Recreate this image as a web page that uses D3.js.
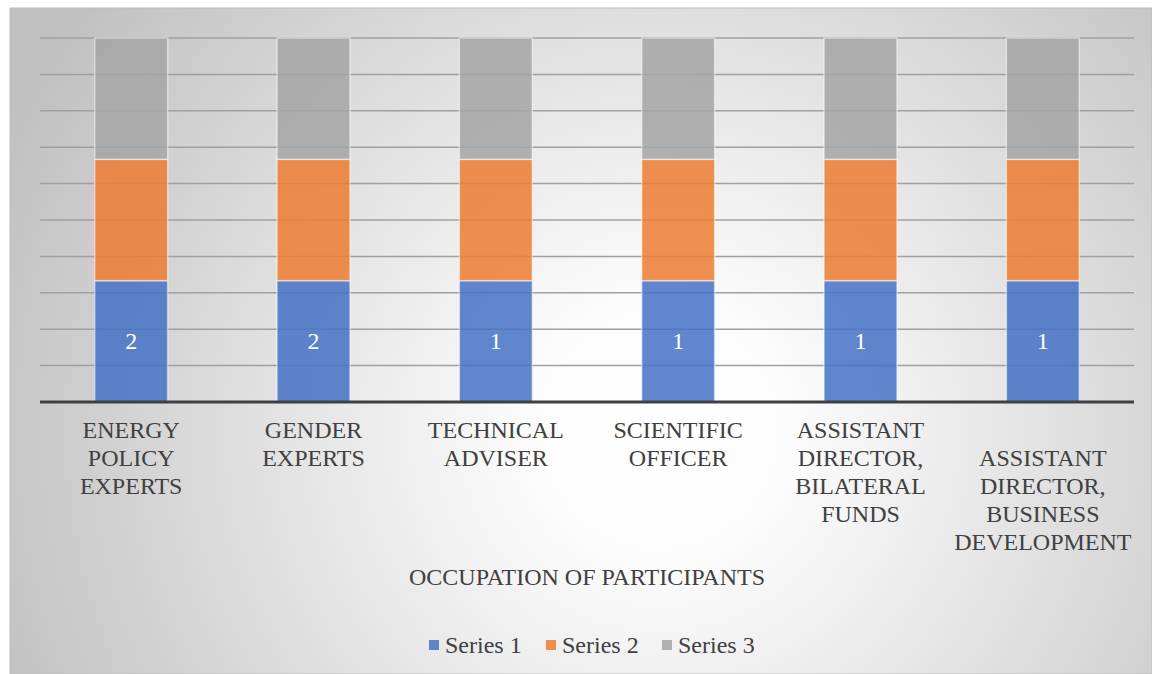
<!DOCTYPE html>
<html>
<head>
<meta charset="utf-8">
<script src="https://cdn.jsdelivr.net/npm/d3@7"></script>
<style>
  html, body { margin: 0; padding: 0; background: #ffffff; }
  svg { display: block; }
</style>
</head>
<body>
<svg id="chart" width="1152" height="674"></svg>
<script>
// Occupations (each wrapped into display lines)
const categories = [
  ["ENERGY", "POLICY", "EXPERTS"],
  ["GENDER", "EXPERTS"],
  ["TECHNICAL", "ADVISER"],
  ["SCIENTIFIC", "OFFICER"],
  ["ASSISTANT", "DIRECTOR,", "BILATERAL", "FUNDS"],
  ["ASSISTANT", "DIRECTOR,", "BUSINESS", "DEVELOPMENT"]
];
const seriesNames = ["Series 1", "Series 2", "Series 3"];
const series1 = [2, 2, 1, 1, 1, 1];
const series2 = [2, 2, 1, 1, 1, 1];
const series3 = [2, 2, 1, 1, 1, 1];
const yTicks = [0, 0.1, 0.2, 0.3, 0.4, 0.5, 0.6, 0.7, 0.8, 0.9, 1];
const axisTitle = "OCCUPATION OF PARTICIPANTS";
const colors = ["#4472C4", "#ED7D31", "#A5A5A5"];
const FONT = "Liberation Serif";
const FS = 24;

const svg = d3.select("#chart");

// Background panel with a soft radial shading
const defs = svg.append("defs");
const grad = defs.append("radialGradient")
  .attr("id", "bg").attr("gradientUnits", "userSpaceOnUse")
  .attr("cx", 660).attr("cy", 430).attr("r", 720);
grad.append("stop").attr("offset", "0%").attr("stop-color", "#ffffff");
grad.append("stop").attr("offset", "18%").attr("stop-color", "#fcfcfc");
grad.append("stop").attr("offset", "100%").attr("stop-color", "#c0c0c0");

svg.append("rect")
  .attr("x", 10).attr("y", 8).attr("width", 1142).attr("height", 666)
  .attr("fill", "url(#bg)")
  .attr("stroke", "#bdbdbd").attr("stroke-width", 1);

const plot = { left: 40, right: 1134, top: 38, bottom: 402 };

const x = d3.scaleBand()
  .domain(d3.range(categories.length))
  .range([plot.left, plot.right])
  .paddingInner(0.6).paddingOuter(0.3);

const y = d3.scaleLinear().domain([0, 1]).range([plot.bottom, plot.top]);

// Gridlines
svg.append("g")
  .selectAll("line")
  .data(yTicks.slice(1))
  .join("line")
  .attr("x1", plot.left).attr("x2", plot.right)
  .attr("y1", d => y(d)).attr("y2", d => y(d))
  .attr("stroke", "#a0a0a0").attr("stroke-width", 1.5);

// 100% stacked layout
const rows = categories.map((c, i) => ({ i, s0: series1[i], s1: series2[i], s2: series3[i] }));
const stack = d3.stack().keys(["s0", "s1", "s2"]).offset(d3.stackOffsetExpand);
const layers = stack(rows);

const gBars = svg.append("g");
layers.forEach((layer, k) => {
  gBars.append("g")
    .selectAll("rect")
    .data(layer)
    .join("rect")
    .attr("x", d => x(d.data.i))
    .attr("width", x.bandwidth())
    .attr("y", d => y(d[1]))
    .attr("height", d => y(d[0]) - y(d[1]))
    .attr("fill", colors[k])
    .attr("fill-opacity", 0.85)
    .attr("stroke", "#ffffff").attr("stroke-opacity", 0.5).attr("stroke-width", 1.5);
});

// Value labels on Series 1
svg.append("g")
  .selectAll("text")
  .data(layers[0])
  .join("text")
  .attr("x", d => x(d.data.i) + x.bandwidth() / 2)
  .attr("y", d => (y(d[0]) + y(d[1])) / 2 + 8)
  .attr("text-anchor", "middle")
  .attr("font-family", FONT)
  .attr("font-size", FS)
  .attr("fill", "#ffffff")
  .text(d => series1[d.data.i]);

// Category axis line
svg.append("line")
  .attr("x1", plot.left).attr("x2", plot.right)
  .attr("y1", plot.bottom).attr("y2", plot.bottom)
  .attr("stroke", "#404040").attr("stroke-width", 3);

// Category labels (the last one sits one line lower)
const lineH = 28;
const gLab = svg.append("g");
categories.forEach((lines, i) => {
  const start = i === categories.length - 1 ? 1 : 0;
  const t = gLab.append("text")
    .attr("text-anchor", "middle")
    .attr("font-family", FONT)
    .attr("font-size", FS)
    .attr("fill", "#404040");
  lines.forEach((ln, j) => {
    t.append("tspan")
      .attr("x", x(i) + x.bandwidth() / 2)
      .attr("y", 438 + (start + j) * lineH)
      .text(ln);
  });
});

// Axis title
svg.append("text")
  .attr("x", 587).attr("y", 585)
  .attr("text-anchor", "middle")
  .attr("font-family", FONT)
  .attr("font-size", FS)
  .attr("fill", "#404040")
  .text(axisTitle);

// Legend
const legendItems = [
  { name: seriesNames[0], x: 429 },
  { name: seriesNames[1], x: 546 },
  { name: seriesNames[2], x: 662 }
];
const gLeg = svg.append("g");
legendItems.forEach((it, k) => {
  gLeg.append("rect")
    .attr("x", it.x).attr("y", 640).attr("width", 10).attr("height", 10)
    .attr("fill", colors[k]).attr("fill-opacity", 0.85);
  gLeg.append("text")
    .attr("x", it.x + 16).attr("y", 653)
    .attr("font-family", FONT)
    .attr("font-size", FS)
    .attr("fill", "#404040")
    .text(it.name);
});
</script>
</body>
</html>
